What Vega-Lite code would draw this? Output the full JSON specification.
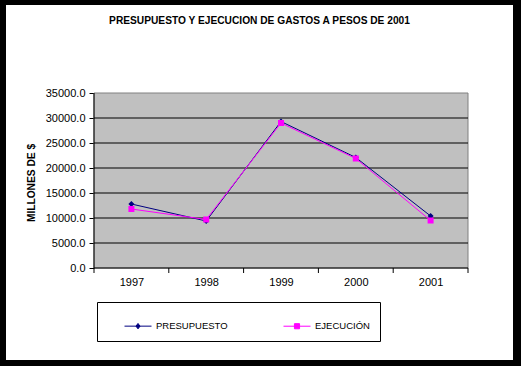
{
  "$schema": "https://vega.github.io/schema/vega-lite/v6.json",
  "width": 507,
  "height": 355,
  "autosize": {"type": "none"},
  "padding": {"left": 6, "top": 5, "right": 8, "bottom": 6},
  "background": "black",
  "config": {
    "view": {"fill": "white", "stroke": null},
    "font": "Liberation Sans",
    "axis": {"labelFont": "Liberation Sans", "titleFont": "Liberation Sans", "labelColor": "black", "titleColor": "black", "zindex": 1},
    "legend": {
      "orient": "none",
      "legendX": 91,
      "legendY": 297,
      "direction": "horizontal",
      "columns": 2,
      "padding": 10,
      "columnPadding": 38,
      "strokeColor": "black",
      "fillColor": "white",
      "symbolSize": 729,
      "symbolOffset": 17,
      "symbolStrokeWidth": 1,
      "symbolOpacity": 1,
      "labelOffset": 4,
      "labelFont": "Liberation Sans",
      "labelFontSize": 9.5,
      "labelColor": "black"
    }
  },
  "title": {
    "text": "PRESUPUESTO Y EJECUCION DE GASTOS A PESOS DE 2001",
    "font": "Liberation Sans",
    "fontSize": 10.2,
    "fontWeight": "bold",
    "color": "black",
    "anchor": "middle",
    "offset": -21
  },
  "datasets": {
    "gastos": [
      {"year": 1997, "serie": "PRESUPUESTO", "valor": 12800},
      {"year": 1998, "serie": "PRESUPUESTO", "valor": 9400},
      {"year": 1999, "serie": "PRESUPUESTO", "valor": 29300},
      {"year": 2000, "serie": "PRESUPUESTO", "valor": 22100},
      {"year": 2001, "serie": "PRESUPUESTO", "valor": 10400},
      {"year": 1997, "serie": "EJECUCIÓN", "valor": 11800},
      {"year": 1998, "serie": "EJECUCIÓN", "valor": 9700},
      {"year": 1999, "serie": "EJECUCIÓN", "valor": 29000},
      {"year": 2000, "serie": "EJECUCIÓN", "valor": 21900},
      {"year": 2001, "serie": "EJECUCIÓN", "valor": 9500}
    ],
    "gridlines": [{"v": 0}, {"v": 5000}, {"v": 10000}, {"v": 15000}, {"v": 20000}, {"v": 25000}, {"v": 30000}],
    "limites": [{"b": 1996.5}, {"b": 1997.5}, {"b": 1998.5}, {"b": 1999.5}, {"b": 2000.5}, {"b": 2001.5}]
  },
  "layer": [
    {
      "data": {"values": [{"a": 0}]},
      "mark": {"type": "rect", "fill": "#C0C0C0", "stroke": "#808080", "strokeWidth": 1},
      "encoding": {
        "x": {
          "datum": 1996.5, "type": "quantitative",
          "scale": {"domain": [1995.3235, 2002.1016], "nice": false, "zero": false},
          "axis": {
            "title": null,
            "orient": "bottom",
            "offset": -92,
            "domain": false,
            "grid": false,
            "ticks": false,
            "values": [1997, 1998, 1999, 2000, 2001],
            "format": "d",
            "labelPadding": 8,
            "labelFontSize": 11,
            "labelFlush": false,
            "labelOverlap": false
          }
        },
        "x2": {"datum": 2001.5},
        "y": {
          "datum": 0, "type": "quantitative",
          "scale": {"domain": [-18400, 52600], "nice": false, "zero": false},
          "axis": {
            "title": "MILLONES DE $",
            "titleFontSize": 10.2,
            "titleFontWeight": "bold",
            "titlePadding": 9,
            "orient": "left",
            "offset": -88,
            "domain": false,
            "grid": false,
            "values": [0, 5000, 10000, 15000, 20000, 25000, 30000, 35000],
            "format": ".1f",
            "tickColor": "black",
            "tickSize": 5,
            "labelPadding": 4,
            "labelFontSize": 11,
            "labelFlush": false,
            "labelOverlap": false
          }
        },
        "y2": {"datum": 35000}
      }
    },
    {
      "data": {"name": "gridlines"},
      "mark": {"type": "rule", "color": "black", "strokeWidth": 1},
      "encoding": {
        "x": {"datum": 1996.5, "type": "quantitative", "scale": {"domain": [1995.3235, 2002.1016], "nice": false, "zero": false}},
        "x2": {"datum": 2001.5},
        "y": {"field": "v", "type": "quantitative", "scale": {"domain": [-18400, 52600], "nice": false, "zero": false}}
      }
    },
    {
      "data": {"values": [{"a": 0}]},
      "mark": {"type": "rule", "color": "black", "strokeWidth": 1},
      "encoding": {
        "x": {"datum": 1996.5, "type": "quantitative", "scale": {"domain": [1995.3235, 2002.1016], "nice": false, "zero": false}},
        "y": {"datum": 0, "type": "quantitative", "scale": {"domain": [-18400, 52600], "nice": false, "zero": false}},
        "y2": {"datum": 35000}
      }
    },
    {
      "data": {"name": "limites"},
      "mark": {"type": "rule", "color": "black", "strokeWidth": 1},
      "encoding": {
        "x": {"field": "b", "type": "quantitative", "scale": {"domain": [1995.3235, 2002.1016], "nice": false, "zero": false}},
        "y": {"datum": 0, "type": "quantitative", "scale": {"domain": [-18400, 52600], "nice": false, "zero": false}},
        "y2": {"datum": -1000}
      }
    },
    {
      "data": {"name": "gastos"},
      "mark": {"type": "line", "strokeWidth": 1},
      "encoding": {
        "x": {"field": "year", "type": "quantitative", "scale": {"domain": [1995.3235, 2002.1016], "nice": false, "zero": false}},
        "y": {"field": "valor", "type": "quantitative", "scale": {"domain": [-18400, 52600], "nice": false, "zero": false}},
        "color": {
          "field": "serie", "type": "nominal",
          "scale": {"domain": ["PRESUPUESTO", "EJECUCIÓN"], "range": ["#000080", "#FF00FF"]},
          "legend": {"title": null, "labelExpr": "datum.label === 'EJECUCIÓN' ? datum.label + '\u00a0\u00a0\u00a0\u00a0\u00a0\u00a0' : datum.label"}
        }
      }
    },
    {
      "data": {"name": "gastos"},
      "mark": {"type": "point", "filled": true, "opacity": 0},
      "encoding": {
        "x": {"field": "year", "type": "quantitative", "scale": {"domain": [1995.3235, 2002.1016], "nice": false, "zero": false}},
        "y": {"field": "valor", "type": "quantitative", "scale": {"domain": [-18400, 52600], "nice": false, "zero": false}},
        "color": {"field": "serie", "type": "nominal", "scale": {"domain": ["PRESUPUESTO", "EJECUCIÓN"], "range": ["#000080", "#FF00FF"]}, "legend": {"title": null, "labelExpr": "datum.label === 'EJECUCIÓN' ? datum.label + '\u00a0\u00a0\u00a0\u00a0\u00a0\u00a0' : datum.label"}},
        "shape": {"field": "serie", "type": "nominal", "scale": {"domain": ["PRESUPUESTO", "EJECUCIÓN"], "range": ["M-1,0H1M0,-0.2L0.15,0L0,0.2L-0.15,0Z", "M-1,0H1M-0.19,-0.19H0.19V0.19H-0.19Z"]}, "legend": {"title": null, "labelExpr": "datum.label === 'EJECUCIÓN' ? datum.label + '\u00a0\u00a0\u00a0\u00a0\u00a0\u00a0' : datum.label"}}
      }
    },
    {
      "data": {"name": "gastos"},
      "transform": [{"filter": "datum.serie === 'PRESUPUESTO'"}],
      "mark": {"type": "point", "filled": true, "size": 36, "shape": "diamond", "color": "#000080", "opacity": 1},
      "encoding": {
        "x": {"field": "year", "type": "quantitative", "scale": {"domain": [1995.3235, 2002.1016], "nice": false, "zero": false}},
        "y": {"field": "valor", "type": "quantitative", "scale": {"domain": [-18400, 52600], "nice": false, "zero": false}}
      }
    },
    {
      "data": {"name": "gastos"},
      "transform": [{"filter": "datum.serie === 'EJECUCIÓN'"}],
      "mark": {"type": "point", "filled": true, "size": 36, "shape": "square", "color": "#FF00FF", "opacity": 1},
      "encoding": {
        "x": {"field": "year", "type": "quantitative", "scale": {"domain": [1995.3235, 2002.1016], "nice": false, "zero": false}},
        "y": {"field": "valor", "type": "quantitative", "scale": {"domain": [-18400, 52600], "nice": false, "zero": false}}
      }
    }
  ]
}
